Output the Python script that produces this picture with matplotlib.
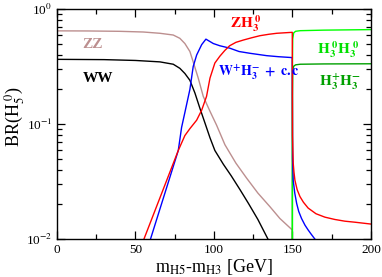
import numpy as np
import matplotlib
matplotlib.use("Agg")
import matplotlib.pyplot as plt
from matplotlib.ticker import LogLocator, NullFormatter, MultipleLocator

plt.rcParams['font.family'] = ['Liberation Serif', 'DejaVu Serif']
plt.rcParams['mathtext.fontset'] = 'stix'

# BR(H5^0) channels vs m_H5 - m_H3 [GeV]
zz_x = [0, 20, 40, 55, 65.6, 74.1, 78.3, 81.5, 84.7, 86.8, 90, 93.2, 97.5, 101.7, 107,
        114, 120.8, 128, 135.7, 142, 149.9, 149.95]
zz_br = [0.6457, 0.6442, 0.6397, 0.631, 0.615, 0.594, 0.556, 0.501, 0.427, 0.347, 0.251,
         0.174, 0.129, 0.0977, 0.0661, 0.0457, 0.0339, 0.0251, 0.0191, 0.0151, 0.0120, 0.001]

ww_x = [0, 30, 50, 65.6, 74.1, 78.3, 81.5, 84.7, 87.9, 91, 94.3, 97.5, 100.6, 106, 111,
        116.6, 122, 128, 134.4, 137]
ww_br = [0.365, 0.363, 0.357, 0.347, 0.331, 0.305, 0.275, 0.240, 0.186, 0.138, 0.102,
         0.0759, 0.0589, 0.0447, 0.0355, 0.0269, 0.0204, 0.0148, 0.010, 0.0085]

wh_x = [59.5, 77.3, 79.4, 81.5, 84.7, 86.8, 89, 92.2, 94.9, 99.6, 103.8, 110, 116, 123,
        133.6, 141, 149.9, 150.1, 150.5, 151.5, 152.7, 154, 155.8, 158, 160, 162, 164.3, 166]
wh_br = [0.00989, 0.0589, 0.0933, 0.126, 0.200, 0.316, 0.398, 0.490, 0.547, 0.501, 0.479,
         0.457, 0.427, 0.412, 0.393, 0.385, 0.378, 0.0501, 0.0324, 0.0251, 0.0204, 0.0174,
         0.0151, 0.0132, 0.0120, 0.0110, 0.0100, 0.00933]

zh_x = [55.3, 77.3, 81.5, 84.7, 89, 92.2, 95.3, 97.5, 100.6, 103.8, 107, 110, 114, 118.7,
        124, 129.3, 135, 140, 149.9, 150.05, 150.3, 150.5, 151, 151.6, 153, 154.8, 157,
        160, 165, 170.7, 177, 183.4, 190, 200]
zh_br = [0.00989, 0.0589, 0.0794, 0.0912, 0.108, 0.132, 0.174, 0.251, 0.339, 0.389, 0.437,
         0.479, 0.513, 0.537, 0.562, 0.586, 0.603, 0.615, 0.627, 0.0794, 0.0562, 0.0457,
         0.0380, 0.0324, 0.0269, 0.0234, 0.0209, 0.0186, 0.0166, 0.0155, 0.0148, 0.0143,
         0.0140, 0.0135]

h0h0_x = [149.95, 150.0, 150.2, 150.8, 152, 155, 170, 200]
h0h0_br = [0.001, 0.30, 0.55, 0.62, 0.64, 0.648, 0.655, 0.662]

hphm_x = [149.95, 150.0, 150.2, 150.8, 152, 155, 170, 200]
hphm_br = [0.001, 0.18, 0.29, 0.318, 0.327, 0.331, 0.333, 0.334]

fig = plt.figure(figsize=(3.82, 2.77), dpi=100)
ax = fig.add_axes([0.149, 0.137, 0.822, 0.8305])

lw = 1.0
ax.plot(zz_x, zz_br, color='#bc8f8f', lw=lw)
ax.plot(ww_x, ww_br, color='black', lw=lw)
ax.plot(hphm_x, hphm_br, color='#00a000', lw=lw)
ax.plot(h0h0_x, h0h0_br, color='#00ff00', lw=lw)
ax.plot(wh_x, wh_br, color='blue', lw=lw)
ax.plot(zh_x, zh_br, color='red', lw=lw)

ax.set_yscale('log')
ax.set_xlim(0, 200)
ax.set_ylim(1e-2, 1)

ax.xaxis.set_major_locator(MultipleLocator(50))
ax.xaxis.set_minor_locator(MultipleLocator(25))
ax.yaxis.set_minor_locator(LogLocator(base=10, subs=np.arange(2, 10), numticks=20))
ax.yaxis.set_minor_formatter(NullFormatter())
ax.set_yticks([1e-2, 1e-1, 1])
ax.set_yticklabels([r'10$^{-2}$', r'10$^{-1}$', r'10$^{0}$'])

ax.tick_params(which='both', direction='in', top=True, right=True, labelsize=9.5)
ax.tick_params(which='major', length=6, width=0.9)
ax.tick_params(which='minor', length=3.5, width=0.9)
for s in ax.spines.values():
    s.set_linewidth(1.0)

ax.set_xlabel(r'm$_{\rm H5}$-m$_{\rm H3}$ [GeV]', fontsize=13, labelpad=1)
ax.set_ylabel(r'BR(H$_5^{\ 0}$)', fontsize=13)
ax.yaxis.set_label_coords(-0.095, 0.53)

fs = 11
ax.text(16, 0.455, 'ZZ', color='#bc8f8f', fontsize=fs, fontweight='bold', va='baseline')
ax.text(16.5, 0.233, 'WW', color='black', fontsize=fs, fontweight='bold', va='baseline')
ax.text(110.2, 0.684, r'$\mathbf{ZH_3^{\ 0}}$', color='red', fontsize=fs, va='baseline')
ax.text(102.7, 0.258, r'$\mathbf{W^{+}H_3^{-}\ +\ c.c}$', color='blue', fontsize=fs - 1,
        va='baseline')
ax.text(165.4, 0.404, r'$\mathbf{H_3^{\ 0}H_3^{\ 0}}$', color='#00e000', fontsize=fs,
        va='baseline')
ax.text(167, 0.218, r'$\mathbf{H_3^{+}H_3^{-}}$', color='#00a000', fontsize=fs,
        va='baseline')

fig.savefig('out.png', dpi=100)
